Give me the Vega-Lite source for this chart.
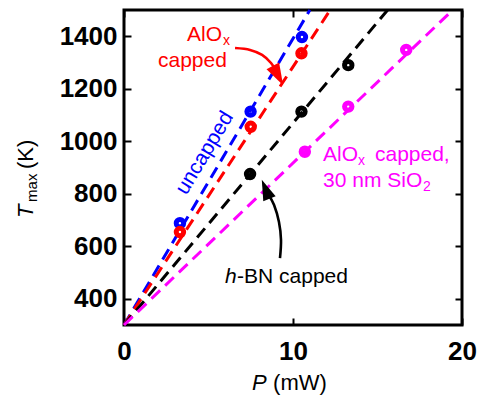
{
  "$schema": "https://vega.github.io/schema/vega-lite/v6.json",
  "width": 338,
  "height": 315,
  "autosize": "none",
  "padding": {"left": 124, "top": 10, "right": 26, "bottom": 71},
  "background": "white",
  "config": {
    "view": {"stroke": "#000000", "strokeWidth": 3},
    "font": "Liberation Sans",
    "axis": {
      "domain": false,
      "grid": false,
      "ticks": true,
      "tickColor": "#000000",
      "tickWidth": 2,
      "tickSize": -7,
      "labelFont": "Liberation Sans",
      "labelFontSize": 26,
      "labelFontWeight": "bold",
      "labelColor": "#000000",
      "labelFlush": false,
      "title": null
    }
  },
  "datasets": {
    "fits": [
      {"series": "uncapped", "P": 0, "T": 300},
      {"series": "uncapped", "P": 11.0, "T": 1500},
      {"series": "AlOx", "P": 0, "T": 300},
      {"series": "AlOx", "P": 12.2, "T": 1500},
      {"series": "hBN", "P": 0, "T": 300},
      {"series": "hBN", "P": 15.6, "T": 1500},
      {"series": "SiO2", "P": 0, "T": 300},
      {"series": "SiO2", "P": 19.45, "T": 1500}
    ],
    "points": [
      {"series": "uncapped", "P": 3.31, "T": 688},
      {"series": "uncapped", "P": 7.49, "T": 1113},
      {"series": "uncapped", "P": 10.53, "T": 1397},
      {"series": "AlOx", "P": 3.31, "T": 654},
      {"series": "AlOx", "P": 7.5, "T": 1055},
      {"series": "AlOx", "P": 10.5, "T": 1335},
      {"series": "hBN", "P": 7.46, "T": 875},
      {"series": "hBN", "P": 10.5, "T": 1113},
      {"series": "hBN", "P": 13.27, "T": 1290},
      {"series": "SiO2", "P": 10.7, "T": 960},
      {"series": "SiO2", "P": 13.27, "T": 1132},
      {"series": "SiO2", "P": 16.7, "T": 1348}
    ],
    "arrows": [
      {"series": "AlOx", "order": 1, "P": 6.57, "T": 1355},
      {"series": "AlOx", "order": 2, "P": 7.46, "T": 1348},
      {"series": "AlOx", "order": 3, "P": 8.17, "T": 1329},
      {"series": "AlOx", "order": 4, "P": 8.7, "T": 1298},
      {"series": "AlOx", "order": 5, "P": 9.05, "T": 1260},
      {"series": "hBN", "order": 1, "P": 9.23, "T": 555},
      {"series": "hBN", "order": 2, "P": 9.29, "T": 624},
      {"series": "hBN", "order": 3, "P": 9.17, "T": 692},
      {"series": "hBN", "order": 4, "P": 8.88, "T": 757},
      {"series": "hBN", "order": 5, "P": 8.52, "T": 799}
    ],
    "heads": [
      {"series": "AlOx", "P": 9.11, "T": 1250},
      {"series": "hBN", "P": 8.38, "T": 817}
    ],
    "labels": [
      {"series": "AlOx", "text": "AlO", "P": 3.73, "T": 1382},
      {"series": "AlOx", "text": "capped", "P": 2.01, "T": 1283},
      {"series": "SiO2", "text": "AlO", "P": 11.78, "T": 925},
      {"series": "SiO2", "text": "capped,", "P": 14.85, "T": 925},
      {"series": "SiO2", "text": "30 nm SiO", "P": 11.78, "T": 826},
      {"series": "hBN", "text": "-BN capped", "P": 6.69, "T": 460}
    ],
    "subs": [
      {"series": "AlOx", "text": "x", "P": 5.86, "T": 1367},
      {"series": "SiO2", "text": "x", "P": 13.85, "T": 910},
      {"series": "SiO2", "text": "2", "P": 17.69, "T": 810}
    ],
    "italics": [
      {"series": "hBN", "text": "h", "P": 5.98, "T": 460}
    ],
    "rotated": [
      {"series": "uncapped", "text": "uncapped", "P": 4.79, "T": 955}
    ],
    "xtitle_it": [{"text": "P", "P": 7.57, "T": 52}],
    "xtitle_rm": [{"text": "(mW)", "P": 8.82, "T": 52}],
    "ytitle_it": [{"text": "T", "P": -5.385, "T": 708}],
    "ytitle_sub": [{"text": "max", "P": -5.148, "T": 769}],
    "ytitle_rm": [{"text": "(K)", "P": -5.385, "T": 894}]
  },
  "layer": [
    {
      "data": {"name": "fits"},
      "mark": {"type": "line", "strokeDash": [12, 7], "strokeWidth": 3},
      "encoding": {
        "x": {"field": "P", "type": "quantitative", "scale": {"domain": [0, 20], "nice": false}, "axis": {"orient": "bottom", "values": [0, 10, 20], "labelPadding": 20}},
        "y": {"field": "T", "type": "quantitative", "scale": {"domain": [300, 1500], "nice": false}, "axis": {"orient": "left", "values": [400, 600, 800, 1000, 1200, 1400], "format": "d", "labelPadding": 14}},
        "color": {"field": "series", "type": "nominal", "scale": {"domain": ["uncapped", "AlOx", "hBN", "SiO2"], "range": ["#0000ff", "#ff0000", "#000000", "#ff00ff"]}, "legend": null}
      }
    },
    {
      "data": {"name": "points"},
      "mark": {"type": "point", "filled": false, "strokeWidth": 5, "size": 55, "opacity": 1},
      "encoding": {
        "x": {"field": "P", "type": "quantitative", "scale": {"domain": [0, 20], "nice": false}, "axis": {"orient": "top", "values": [0, 10, 20], "labels": false}},
        "y": {"field": "T", "type": "quantitative", "scale": {"domain": [300, 1500], "nice": false}, "axis": {"orient": "right", "values": [400, 600, 800, 1000, 1200, 1400], "labels": false}},
        "color": {"field": "series", "type": "nominal", "scale": {"domain": ["uncapped", "AlOx", "hBN", "SiO2"], "range": ["#0000ff", "#ff0000", "#000000", "#ff00ff"]}, "legend": null}
      }
    },
    {
      "data": {"name": "arrows"},
      "mark": {"type": "line", "strokeWidth": 2.6, "interpolate": "cardinal"},
      "encoding": {
        "x": {"field": "P", "type": "quantitative", "scale": {"domain": [0, 20], "nice": false}, "axis": null},
        "y": {"field": "T", "type": "quantitative", "scale": {"domain": [300, 1500], "nice": false}, "axis": null},
        "order": {"field": "order", "type": "quantitative"},
        "color": {"field": "series", "type": "nominal", "scale": {"domain": ["uncapped", "AlOx", "hBN", "SiO2"], "range": ["#0000ff", "#ff0000", "#000000", "#ff00ff"]}, "legend": null}
      }
    },
    {
      "data": {"name": "heads"},
      "transform": [{"filter": "datum.series === 'AlOx'"}],
      "mark": {"type": "point", "shape": "M0,-1L0.65,1L-0.65,1Z", "filled": true, "size": 480, "angle": 152, "opacity": 1},
      "encoding": {
        "x": {"field": "P", "type": "quantitative", "scale": {"domain": [0, 20], "nice": false}, "axis": null},
        "y": {"field": "T", "type": "quantitative", "scale": {"domain": [300, 1500], "nice": false}, "axis": null},
        "color": {"field": "series", "type": "nominal", "scale": {"domain": ["uncapped", "AlOx", "hBN", "SiO2"], "range": ["#0000ff", "#ff0000", "#000000", "#ff00ff"]}, "legend": null}
      }
    },
    {
      "data": {"name": "heads"},
      "transform": [{"filter": "datum.series === 'hBN'"}],
      "mark": {"type": "point", "shape": "M0,-1L0.65,1L-0.65,1Z", "filled": true, "size": 420, "angle": 338, "opacity": 1},
      "encoding": {
        "x": {"field": "P", "type": "quantitative", "scale": {"domain": [0, 20], "nice": false}, "axis": null},
        "y": {"field": "T", "type": "quantitative", "scale": {"domain": [300, 1500], "nice": false}, "axis": null},
        "color": {"field": "series", "type": "nominal", "scale": {"domain": ["uncapped", "AlOx", "hBN", "SiO2"], "range": ["#0000ff", "#ff0000", "#000000", "#ff00ff"]}, "legend": null}
      }
    },
    {
      "data": {"name": "labels"},
      "mark": {"type": "text", "fontSize": 21, "align": "left", "baseline": "alphabetic", "font": "Liberation Sans"},
      "encoding": {
        "x": {"field": "P", "type": "quantitative", "scale": {"domain": [0, 20], "nice": false}, "axis": null},
        "y": {"field": "T", "type": "quantitative", "scale": {"domain": [300, 1500], "nice": false}, "axis": null},
        "text": {"field": "text"},
        "color": {"field": "series", "type": "nominal", "scale": {"domain": ["uncapped", "AlOx", "hBN", "SiO2"], "range": ["#0000ff", "#ff0000", "#000000", "#ff00ff"]}, "legend": null}
      }
    },
    {
      "data": {"name": "subs"},
      "mark": {"type": "text", "fontSize": 14, "align": "left", "baseline": "alphabetic", "font": "Liberation Sans"},
      "encoding": {
        "x": {"field": "P", "type": "quantitative", "scale": {"domain": [0, 20], "nice": false}, "axis": null},
        "y": {"field": "T", "type": "quantitative", "scale": {"domain": [300, 1500], "nice": false}, "axis": null},
        "text": {"field": "text"},
        "color": {"field": "series", "type": "nominal", "scale": {"domain": ["uncapped", "AlOx", "hBN", "SiO2"], "range": ["#0000ff", "#ff0000", "#000000", "#ff00ff"]}, "legend": null}
      }
    },
    {
      "data": {"name": "italics"},
      "mark": {"type": "text", "fontSize": 21, "fontStyle": "italic", "align": "left", "baseline": "alphabetic", "font": "Liberation Sans"},
      "encoding": {
        "x": {"field": "P", "type": "quantitative", "scale": {"domain": [0, 20], "nice": false}, "axis": null},
        "y": {"field": "T", "type": "quantitative", "scale": {"domain": [300, 1500], "nice": false}, "axis": null},
        "text": {"field": "text"},
        "color": {"field": "series", "type": "nominal", "scale": {"domain": ["uncapped", "AlOx", "hBN", "SiO2"], "range": ["#0000ff", "#ff0000", "#000000", "#ff00ff"]}, "legend": null}
      }
    },
    {
      "data": {"name": "rotated"},
      "mark": {"type": "text", "fontSize": 21, "angle": 301, "align": "center", "baseline": "middle", "font": "Liberation Sans"},
      "encoding": {
        "x": {"field": "P", "type": "quantitative", "scale": {"domain": [0, 20], "nice": false}, "axis": null},
        "y": {"field": "T", "type": "quantitative", "scale": {"domain": [300, 1500], "nice": false}, "axis": null},
        "text": {"field": "text"},
        "color": {"field": "series", "type": "nominal", "scale": {"domain": ["uncapped", "AlOx", "hBN", "SiO2"], "range": ["#0000ff", "#ff0000", "#000000", "#ff00ff"]}, "legend": null}
      }
    },
    {
      "data": {"name": "xtitle_it"},
      "mark": {"type": "text", "fontSize": 22, "fontStyle": "italic", "align": "left", "baseline": "alphabetic", "color": "#000000", "font": "Liberation Sans"},
      "encoding": {
        "x": {"field": "P", "type": "quantitative", "scale": {"domain": [0, 20], "nice": false}, "axis": null},
        "y": {"field": "T", "type": "quantitative", "scale": {"domain": [300, 1500], "nice": false}, "axis": null},
        "text": {"field": "text"}
      }
    },
    {
      "data": {"name": "xtitle_rm"},
      "mark": {"type": "text", "fontSize": 22, "align": "left", "baseline": "alphabetic", "color": "#000000", "font": "Liberation Sans"},
      "encoding": {
        "x": {"field": "P", "type": "quantitative", "scale": {"domain": [0, 20], "nice": false}, "axis": null},
        "y": {"field": "T", "type": "quantitative", "scale": {"domain": [300, 1500], "nice": false}, "axis": null},
        "text": {"field": "text"}
      }
    },
    {
      "data": {"name": "ytitle_it"},
      "mark": {"type": "text", "fontSize": 22, "fontStyle": "italic", "angle": 270, "align": "left", "baseline": "alphabetic", "color": "#000000", "font": "Liberation Sans"},
      "encoding": {
        "x": {"field": "P", "type": "quantitative", "scale": {"domain": [0, 20], "nice": false}, "axis": null},
        "y": {"field": "T", "type": "quantitative", "scale": {"domain": [300, 1500], "nice": false}, "axis": null},
        "text": {"field": "text"}
      }
    },
    {
      "data": {"name": "ytitle_sub"},
      "mark": {"type": "text", "fontSize": 15, "angle": 270, "align": "left", "baseline": "alphabetic", "color": "#000000", "font": "Liberation Sans"},
      "encoding": {
        "x": {"field": "P", "type": "quantitative", "scale": {"domain": [0, 20], "nice": false}, "axis": null},
        "y": {"field": "T", "type": "quantitative", "scale": {"domain": [300, 1500], "nice": false}, "axis": null},
        "text": {"field": "text"}
      }
    },
    {
      "data": {"name": "ytitle_rm"},
      "mark": {"type": "text", "fontSize": 22, "angle": 270, "align": "left", "baseline": "alphabetic", "color": "#000000", "font": "Liberation Sans"},
      "encoding": {
        "x": {"field": "P", "type": "quantitative", "scale": {"domain": [0, 20], "nice": false}, "axis": null},
        "y": {"field": "T", "type": "quantitative", "scale": {"domain": [300, 1500], "nice": false}, "axis": null},
        "text": {"field": "text"}
      }
    }
  ],
  "resolve": {"axis": {"x": "independent", "y": "independent"}}
}
